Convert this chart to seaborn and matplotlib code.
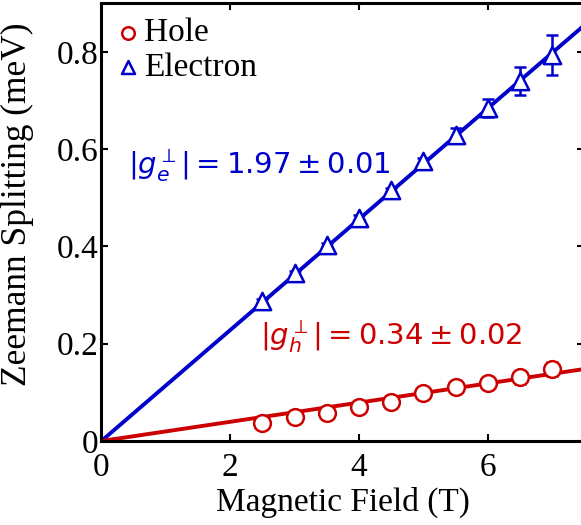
import numpy as np
import pandas as pd
import matplotlib
matplotlib.use("Agg")
import matplotlib.pyplot as plt
import seaborn as sns

# ---- data ----
field = [2.5, 3.0, 3.5, 4.0, 4.5, 5.0, 5.5, 6.0, 6.5, 7.0]
electron = [0.287, 0.345, 0.403, 0.459, 0.516, 0.576, 0.630, 0.685, 0.740, 0.793]
electron_err = [0.004, 0.004, 0.004, 0.005, 0.005, 0.006, 0.013, 0.018, 0.029, 0.041]
hole = [0.037, 0.049, 0.058, 0.069, 0.080, 0.099, 0.110, 0.120, 0.131, 0.148]
hole_err = [0.004, 0.004, 0.004, 0.004, 0.004, 0.004, 0.005, 0.006, 0.013, 0.015]
fit_x = [0.0, 7.5]
electron_fit = [0.0, 0.855]
hole_fit = [0.0, 0.148]
x_ticks = [0, 2, 4, 6]
y_ticks = [0, 0.2, 0.4, 0.6, 0.8]
y_ticklabels = ["0", "0.2", "0.4", "0.6", "0.8"]

BLUE = "#0000CC"
RED = "#CC0000"

sns.set_style("ticks")
plt.rcParams["font.family"] = ["Liberation Serif", "DejaVu Serif"]
plt.rcParams["mathtext.fontset"] = "dejavusans"
plt.rcParams["text.color"] = "black"
plt.rcParams["axes.labelcolor"] = "black"

fig = plt.figure(figsize=(5.81, 5.25), dpi=100)
ax = fig.add_axes([0.1745, 0.16, 0.8315, 0.834])

fits = pd.DataFrame({
    "B": fit_x + fit_x,
    "E": electron_fit + hole_fit,
    "carrier": ["e", "e", "h", "h"],
})
sns.lineplot(data=fits, x="B", y="E", hue="carrier",
             palette={"e": BLUE, "h": RED}, lw=2.8, legend=False, ax=ax, zorder=2)

ax.errorbar(field, hole, yerr=hole_err, fmt="none", ecolor=RED, elinewidth=1.8,
            capsize=4, capthick=1.8, zorder=3)
ax.errorbar(field, electron, yerr=electron_err, fmt="none", ecolor=BLUE, elinewidth=1.8,
            capsize=4, capthick=1.8, zorder=3)

pts = pd.DataFrame({
    "B": field + field,
    "E": hole + electron,
    "carrier": ["Hole"] * len(field) + ["Electron"] * len(field),
})
sns.scatterplot(data=pts[pts.carrier == "Hole"], x="B", y="E", marker="o", s=145,
                facecolor="white", edgecolor=RED, linewidth=1.8, ax=ax, zorder=4,
                label="Hole")
sns.scatterplot(data=pts[pts.carrier == "Electron"], x="B", y="E", marker="^", s=155,
                facecolor="white", edgecolor=BLUE, linewidth=1.8, ax=ax, zorder=4,
                label="Electron")

ax.set_xlim(0, 7.5)
ax.set_ylim(0, 0.9)
ax.set_xticks(x_ticks)
ax.set_xticklabels([str(t) for t in x_ticks])
ax.set_yticks(y_ticks)
ax.set_yticklabels(y_ticklabels)
ax.tick_params(direction="in", length=5, width=1.5, top=True, right=True,
               labelsize=24, pad=2, colors="black")
ax.tick_params(axis="x", pad=8)
for s in ax.spines.values():
    s.set_linewidth(2.2)
    s.set_color("black")
ax.set_xlabel("Magnetic Field (T)", fontsize=24, labelpad=3, color="black")
ax.set_ylabel("Zeemann Splitting (meV)", fontsize=25.5, color="black")
ax.yaxis.set_label_coords(-0.14, 0.54)

leg = ax.legend(loc="upper left", frameon=False, fontsize=24, handletextpad=0.0,
                handlelength=1.0, borderaxespad=0.15, labelspacing=0.12,
                markerscale=0.75, bbox_to_anchor=(-0.018, 1.008))
for t in leg.get_texts():
    t.set_color("black")

ax.text(0.42, 0.567, r"$|g_e^{\perp}| = 1.97 \pm 0.01$", color=BLUE, fontsize=21,
        va="center", ha="left")
ax.text(2.47, 0.216, r"$|g_h^{\perp}| = 0.34 \pm 0.02$", color=RED, fontsize=21,
        va="center", ha="left")

fig.savefig("out.png", dpi=100)
